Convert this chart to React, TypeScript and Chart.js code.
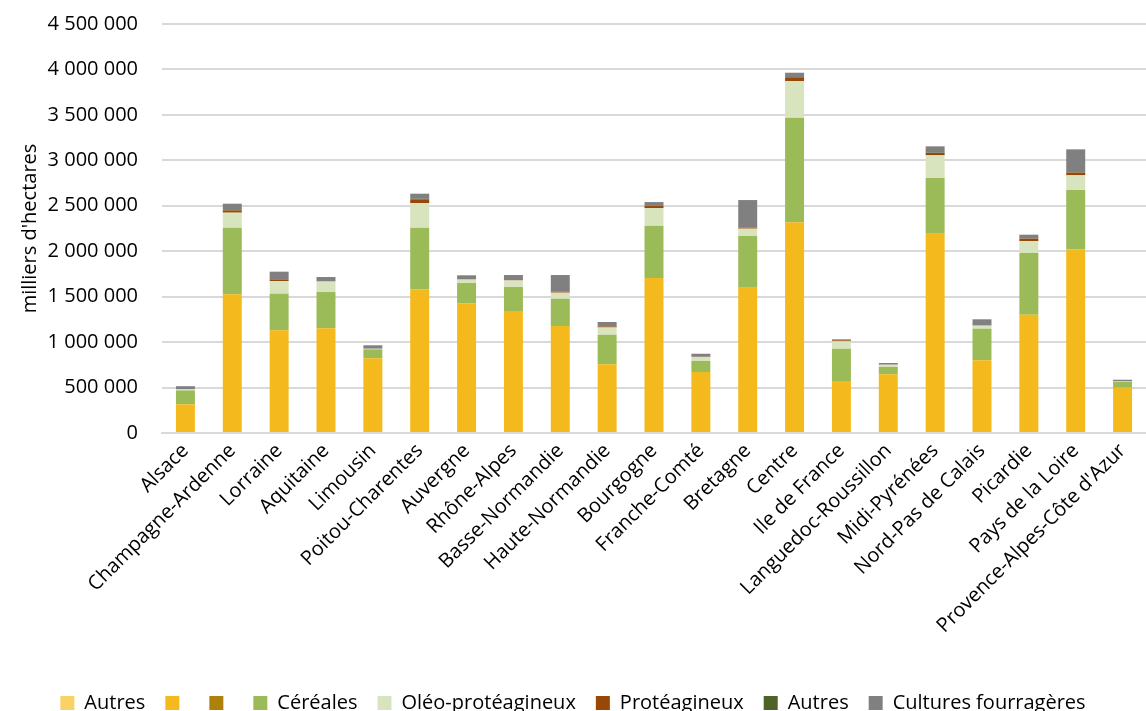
import React, { useEffect, useRef } from "react";
import { Chart, registerables } from "chart.js";

Chart.register(...registerables);

const regions = [
  "Alsace", "Champagne-Ardenne", "Lorraine", "Aquitaine", "Limousin",
  "Poitou-Charentes", "Auvergne", "Rhône-Alpes", "Basse-Normandie",
  "Haute-Normandie", "Bourgogne", "Franche-Comté", "Bretagne", "Centre",
  "Ile de France", "Languedoc-Roussillon", "Midi-Pyrénées",
  "Nord-Pas de Calais", "Picardie", "Pays de la Loire",
  "Provence-Alpes-Côte d'Azur",
];

const autresLight = [0, 0, 0, 0, 0, 0, 0, 0, 0, 0, 0, 0, 0, 0, 0, 0, 0, 0, 0, 0, 0];
const principal = [
  316000, 1526000, 1130000, 1152000, 822000, 1581000, 1427000, 1342000, 1177000,
  756000, 1705000, 671000, 1599000, 2318000, 572000, 646000, 2193000, 800000,
  1301000, 2021000, 498000,
];
const secondaire = [0, 0, 0, 0, 0, 0, 0, 0, 0, 0, 0, 0, 0, 0, 0, 0, 0, 0, 0, 0, 0];
const cereales = [
  152000, 733000, 403000, 399000, 99000, 678000, 223000, 264000, 301000,
  325000, 576000, 121000, 568000, 1151000, 355000, 80000, 613000, 348000,
  679000, 653000, 66000,
];
const oleo = [
  12000, 165000, 139000, 116000, 6000, 271000, 38000, 72000, 66000,
  80000, 194000, 45000, 81000, 404000, 82000, 25000, 249000, 33000,
  132000, 161000, 5000,
];
const proteagineux = [
  3000, 24000, 12000, 5000, 0, 37000, 3000, 4000, 10000,
  12000, 22000, 2000, 11000, 36000, 10000, 2000, 26000, 3000,
  26000, 29000, 0,
];
const autresDark = [
  0, 5000, 0, 0, 0, 10000, 0, 0, 0,
  0, 4000, 0, 0, 8000, 0, 0, 5000, 0,
  0, 5000, 0,
];
const fourrageres = [
  32000, 70000, 91000, 44000, 38000, 56000, 44000, 56000, 184000,
  48000, 40000, 33000, 304000, 47000, 12000, 17000, 68000, 67000,
  44000, 252000, 17000,
];

const yTicks = [0, 500000, 1000000, 1500000, 2000000, 2500000, 3000000, 3500000, 4000000, 4500000];

const fmt = (v: number) => String(v).replace(/\B(?=(\d{3})+(?!\d))/g, " ");

export default function App() {
  const ref = useRef<HTMLCanvasElement | null>(null);

  useEffect(() => {
    if (!ref.current) return;
    Chart.defaults.font.family = "'Open Sans', sans-serif";
    Chart.defaults.font.size = 20;
    Chart.defaults.color = "#000000";
    const mk = (label: string, data: number[], color: string) => ({
      label,
      data,
      backgroundColor: color,
      borderWidth: 0,
      categoryPercentage: 1,
      barPercentage: 0.405,
    });
    const chart = new Chart(ref.current, {
      type: "bar",
      data: {
        labels: regions,
        datasets: [
          mk("Autres", autresLight, "#F9D266"),
          mk("", principal, "#F4B91C"),
          mk("", secondaire, "#AE820A"),
          mk("Céréales", cereales, "#9BBB59"),
          mk("Oléo-protéagineux", oleo, "#D8E4BD"),
          mk("Protéagineux", proteagineux, "#974706"),
          mk("Autres", autresDark, "#4F6228"),
          mk("Cultures fourragères", fourrageres, "#808080"),
        ],
      },
      options: {
        responsive: false,
        animation: false,
        layout: { padding: { top: 11, right: 0, left: 0, bottom: 0 } },
        plugins: {
          tooltip: { enabled: false },
          legend: {
            position: "bottom",
            labels: {
              boxWidth: 14,
              boxHeight: 14,
              padding: 20,
              font: { size: 20 },
              color: "#000000",
            },
          },
        },
        scales: {
          x: {
            stacked: true,
            grid: { display: false, drawTicks: false },
            border: { display: true, color: "#D9D9D9", width: 2 },
            ticks: {
              minRotation: 45,
              maxRotation: 45,
              autoSkip: false,
              padding: 6,
              font: { size: 20 },
              color: "#000000",
            },
            afterFit: (scale: any) => {
              scale.height = 240;
            },
          },
          y: {
            stacked: true,
            min: 0,
            max: 4500000,
            afterBuildTicks: (scale: any) => {
              scale.ticks = yTicks.map((v) => ({ value: v }));
            },
            grid: { color: "#D9D9D9", lineWidth: 2, drawTicks: false },
            border: { display: false },
            ticks: {
              padding: 24,
              font: { size: 20 },
              color: "#000000",
              callback: (v: any) => fmt(Number(v)),
            },
            title: {
              display: true,
              text: "milliers d'hectares",
              font: { size: 20 },
              color: "#000000",
              padding: { top: 18, bottom: 0 },
            },
            afterFit: (scale: any) => {
              scale.width = 162;
            },
          },
        },
      },
    });
    return () => chart.destroy();
  }, []);

  return (
    <div
      style={{
        position: "absolute",
        left: 0,
        top: 0,
        width: 1146,
        height: 711,
        overflow: "hidden",
        background: "#ffffff",
      }}
    >
      <canvas
        ref={ref}
        width={1146}
        height={735}
        style={{ display: "block", position: "absolute", left: 0, top: -12 }}
      />
    </div>
  );
}
